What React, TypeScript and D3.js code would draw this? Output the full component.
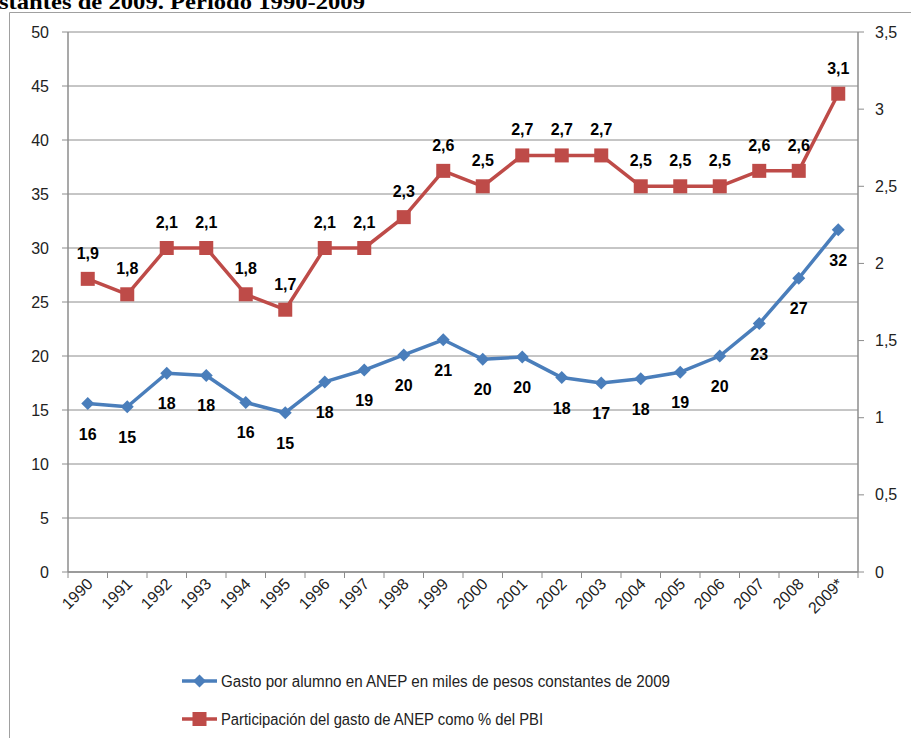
import React from "react";
import * as d3 from "d3";

const years = ["1990","1991","1992","1993","1994","1995","1996","1997","1998","1999","2000","2001","2002","2003","2004","2005","2006","2007","2008","2009*"];
const gastoAlumno = [15.6,15.3,18.4,18.2,15.7,14.75,17.6,18.7,20.1,21.5,19.7,19.9,18.0,17.5,17.9,18.5,20.0,23.0,27.2,31.7];
const gastoLabels = ["16","15","18","18","16","15","18","19","20","21","20","20","18","17","18","19","20","23","27","32"];
const pctPBI = [1.9,1.8,2.1,2.1,1.8,1.7,2.1,2.1,2.3,2.6,2.5,2.7,2.7,2.7,2.5,2.5,2.5,2.6,2.6,3.1];
const leftTicks = [0,5,10,15,20,25,30,35,40,45,50];
const rightTicks = [0,0.5,1,1.5,2,2.5,3,3.5];
const seriesNames = [
  "Gasto por alumno en ANEP en miles de pesos constantes de 2009",
  "Participación del gasto de ANEP como % del PBI",
];
const titleText = "stantes de 2009. Período 1990-2009";

const BLUE = "#4a7ebb";
const RED = "#be4b48";
const GRID = "#8c8c8c";
const FONT = "'Liberation Sans', Arial, sans-serif";

const fmt = (v: number) => (Number.isInteger(v) ? String(v) : String(v).replace(".", ","));

export default function App() {
  const L = 68, R = 858, T = 32, B = 572;
  const x = d3.scaleBand<string>().domain(years).range([L, R]).padding(0);
  const yL = d3.scaleLinear().domain([0, 50]).range([B, T]);
  const yR = d3.scaleLinear().domain([0, 3.5]).range([B, T]);
  const cx = (i: number) => (x(years[i]) as number) + x.bandwidth() / 2;

  const lineL = d3.line<number>().x((_, i) => cx(i)).y((d) => yL(d));
  const lineR = d3.line<number>().x((_, i) => cx(i)).y((d) => yR(d));
  const diamond = (px: number, py: number, s: number) =>
    `M${px},${py - s}L${px + s},${py}L${px},${py + s}L${px - s},${py}Z`;

  const boundaries = years.map((y) => x(y) as number).concat([R]);

  return (
    <svg width={911} height={738} style={{ position: "absolute", left: 0, top: 0 }}>
      <rect x={0} y={0} width={911} height={738} fill="#fff" />
      {/* title (cut off at the top, as in the source) */}
      <text x={-1} y={9} fontFamily="'Liberation Serif', 'Times New Roman', serif" fontWeight="bold" fontSize={22} textLength={366} lengthAdjust="spacingAndGlyphs">{titleText}</text>
      {/* outer frame */}
      <line x1={9.5} y1={12.5} x2={911} y2={12.5} stroke="#a0a0a0" />
      <line x1={9.5} y1={12.5} x2={9.5} y2={738} stroke="#a0a0a0" />

      {/* gridlines */}
      {leftTicks.map((t) => (
        <line key={"g" + t} x1={L - 6} x2={R} y1={yL(t)} y2={yL(t)} stroke={GRID} strokeWidth={1} />
      ))}
      {/* axes */}
      <line x1={L} x2={L} y1={T} y2={B} stroke={GRID} strokeWidth={1.5} />
      <line x1={R} x2={R} y1={T} y2={B} stroke={GRID} strokeWidth={1.5} />
      <line x1={L} x2={R} y1={B} y2={B} stroke={GRID} strokeWidth={1.5} />
      {rightTicks.map((t) => (
        <line key={"rt" + t} x1={R} x2={R + 6} y1={yR(t)} y2={yR(t)} stroke={GRID} />
      ))}
      {boundaries.map((bx, i) => (
        <line key={"xt" + i} x1={bx} x2={bx} y1={B} y2={B + 6} stroke={GRID} />
      ))}
      {leftTicks.map((t) => (
        <text key={"lt" + t} x={49} y={yL(t) + 5.5} textAnchor="end" fontFamily={FONT} fontSize={16} fill="#222">{t}</text>
      ))}
      {rightTicks.map((t) => (
        <text key={"rl" + t} x={875} y={yR(t) + 5.5} textAnchor="start" fontFamily={FONT} fontSize={16} fill="#222">{fmt(t)}</text>
      ))}
      {years.map((yr, i) => (
        <text key={"xl" + yr} transform={`translate(${cx(i) + 6},${B + 13}) rotate(-45)`} textAnchor="end" fontFamily={FONT} fontSize={16} fill="#222">{yr}</text>
      ))}

      {/* series */}
      <path d={lineR(pctPBI) as string} fill="none" stroke={RED} strokeWidth={3.5} strokeLinejoin="round" />
      {pctPBI.map((v, i) => (
        <rect key={"sq" + i} x={cx(i) - 7} y={yR(v) - 7} width={14} height={14} fill={RED} />
      ))}
      <path d={lineL(gastoAlumno) as string} fill="none" stroke={BLUE} strokeWidth={3.5} strokeLinejoin="round" />
      {gastoAlumno.map((v, i) => (
        <path key={"dm" + i} d={diamond(cx(i), yL(v), 6.5)} fill={BLUE} />
      ))}

      {/* data labels */}
      {pctPBI.map((v, i) => (
        <text key={"rlab" + i} x={cx(i)} y={yR(v) - 20} textAnchor="middle" fontFamily={FONT} fontWeight="bold" fontSize={16} fill="#000">{fmt(v)}</text>
      ))}
      {gastoAlumno.map((v, i) => (
        <text key={"blab" + i} x={cx(i)} y={yL(v) + 36} textAnchor="middle" fontFamily={FONT} fontWeight="bold" fontSize={16} fill="#000">{gastoLabels[i]}</text>
      ))}

      {/* legend */}
      <line x1={182} x2={217} y1={681} y2={681} stroke={BLUE} strokeWidth={3.5} />
      <path d={diamond(199.5, 681, 6.5)} fill={BLUE} />
      <text x={221} y={686.5} fontFamily={FONT} fontSize={16} fill="#222" textLength={449} lengthAdjust="spacingAndGlyphs">{seriesNames[0]}</text>
      <line x1={182} x2={217} y1={719} y2={719} stroke={RED} strokeWidth={3.5} />
      <rect x={192.5} y={712} width={14} height={14} fill={RED} />
      <text x={221} y={724.5} fontFamily={FONT} fontSize={16} fill="#222" textLength={322} lengthAdjust="spacingAndGlyphs">{seriesNames[1]}</text>
    </svg>
  );
}
